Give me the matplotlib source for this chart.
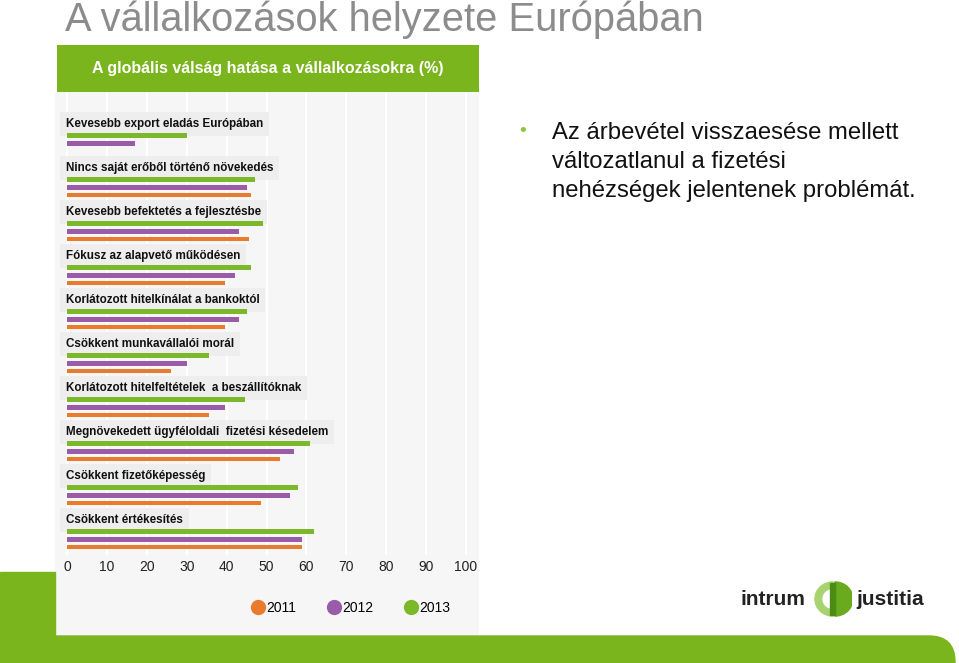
import matplotlib
matplotlib.use("Agg")
import matplotlib.pyplot as plt
from matplotlib.patches import Rectangle, FancyBboxPatch, Wedge
from matplotlib.lines import Line2D
from matplotlib.transforms import IdentityTransform

plt.rcParams['font.family'] = ['Liberation Sans', 'DejaVu Sans']

# ---- data ----
categories = [
    "Kevesebb export eladás Európában",
    "Nincs saját erőből történő növekedés",
    "Kevesebb befektetés a fejlesztésbe",
    "Fókusz az alapvető működésen",
    "Korlátozott hitelkínálat a bankoktól",
    "Csökkent munkavállalói morál",
    "Korlátozott hitelfeltételek  a beszállítóknak",
    "Megnövekedett ügyféloldali  fizetési késedelem",
    "Csökkent fizetőképesség",
    "Csökkent értékesítés",
]
years = ["2011", "2012", "2013"]
v2013 = [30, 47, 49, 46, 45, 35.5, 44.5, 61, 58, 62]
v2012 = [17, 45, 43, 42, 43, 30, 39.5, 57, 56, 59]
v2011 = [None, 46, 45.5, 39.5, 39.5, 26, 35.5, 53.5, 48.5, 59]
xticks = [0, 10, 20, 30, 40, 50, 60, 70, 80, 90, 100]

title = "A vállalkozások helyzete Európában"
header = "A globális válság hatása a vállalkozásokra (%)"
bullet_lines = ["Az árbevétel visszaesése mellett",
                "változatlanul a fizetési",
                "nehézségek jelentenek problémát."]

c2011 = "#ea7a2c"
c2012 = "#9a5ba8"
c2013 = "#7bb82a"
green = "#7ab51d"

W, H = 959, 663
fig = plt.figure(figsize=(W / 100, H / 100), dpi=100)
fig.patch.set_facecolor("white")

def fx(x):
    return x / W

def fy(y):
    return 1 - y / H

ident = IdentityTransform()
# footer green shapes (pixel coordinates, origin bottom-left)
fig.patches.append(Rectangle((0, 0), 55, 663 - 572, transform=ident, color=green, zorder=0))
fig.patches.append(FancyBboxPatch((-60, -40), 1015, 663 - 636 + 40,
                                  boxstyle="round,pad=0,rounding_size=26",
                                  transform=ident, color=green, zorder=0))

# title
fig.text(fx(65), fy(31), title, fontsize=28.7, color="#8c8c8c", va="baseline", ha="left")

# bullet text
fig.text(fx(523), fy(131), "•", fontsize=14, color="#8cc63f", va="center", ha="center")
for i, line in enumerate(bullet_lines):
    fig.text(fx(552), fy(139 + 29 * i), line, fontsize=17.2, color="#111111",
             va="baseline", ha="left")

# main panel
L, R, T, B = 55, 479, 92, 637
ax = fig.add_axes([fx(L), fy(B), fx(R - L), (B - T) / H])
ax.set_facecolor("#f6f6f6")
px_per_unit = 399 / 100.0
x0 = 67
ax.set_xlim((L - x0) / px_per_unit, (R - x0) / px_per_unit)
gap = 44.0
y0 = 124.0
ax.set_ylim((B - y0) / gap, (T - y0) / gap)
for s in ax.spines.values():
    s.set_visible(False)
ax.set_xticks([])
ax.set_yticks([])

# gridlines
ax.vlines(xticks, (T - y0) / gap, (555 - y0) / gap, colors="white", linewidth=1.5, zorder=1)

# header
hax = fig.add_axes([fx(57), fy(92), fx(479 - 57), (92 - 45) / H])
hax.set_facecolor(green)
hax.set_xticks([]); hax.set_yticks([])
for s in hax.spines.values():
    s.set_visible(False)
hax.text(0.5, 0.5, header, color="white", fontsize=11.5, fontweight="bold",
         ha="center", va="center", transform=hax.transAxes)

bh = 0.11
off = [0.255, 0.435, 0.615]
for i, cat in enumerate(categories):
    ax.text(-0.3, i, cat, fontsize=8.4, fontweight="bold", color="#111111",
            ha="left", va="center", zorder=3,
            bbox=dict(boxstyle="square,pad=0.5", facecolor="#eeeeee", edgecolor="none"))
    ax.barh(i + off[0], v2013[i], height=bh, color=c2013, zorder=4)
    ax.barh(i + off[1], v2012[i], height=bh, color=c2012, zorder=4)
    if v2011[i] is not None:
        ax.barh(i + off[2], v2011[i], height=bh, color=c2011, zorder=4)

# tick labels
for t in xticks:
    ax.text(t, (567 - y0) / gap, str(t), fontsize=10, color="#222222",
            ha="center", va="center")

# legend
handles = [Line2D([], [], marker="o", linestyle="none", markersize=11,
                  markerfacecolor=c, markeredgecolor="none") for c in (c2011, c2012, c2013)]
ax.legend(handles, years, loc="center",
          bbox_to_anchor=((350 - L) / (R - L), (B - 608) / (B - T)),
          ncol=3, frameon=False, fontsize=10, handletextpad=0.0,
          columnspacing=2.1, handlelength=1.2)

# logo
fig.text(fx(740), fy(605), "intrum", fontsize=15, fontweight="bold", color="#222222",
         ha="left", va="baseline")
fig.text(fx(856), fy(605), "justitia", fontsize=15, fontweight="bold", color="#222222",
         ha="left", va="baseline")
lax = fig.add_axes([fx(814), fy(617), fx(38), 36 / H])
lax.set_xlim(-1, 1); lax.set_ylim(-1, 1); lax.axis("off")
lax.add_patch(Wedge((0, 0), 0.95, 90, 270, width=0.35, color="#a8d46f"))
lax.add_patch(Wedge((0.1, 0), 0.95, -90, 90, color="#6aaa1e"))
lax.add_patch(Rectangle((-0.15, -0.9), 0.25, 1.8, color="#4c8c12"))

fig.savefig("out.png", dpi=100, facecolor="white")
